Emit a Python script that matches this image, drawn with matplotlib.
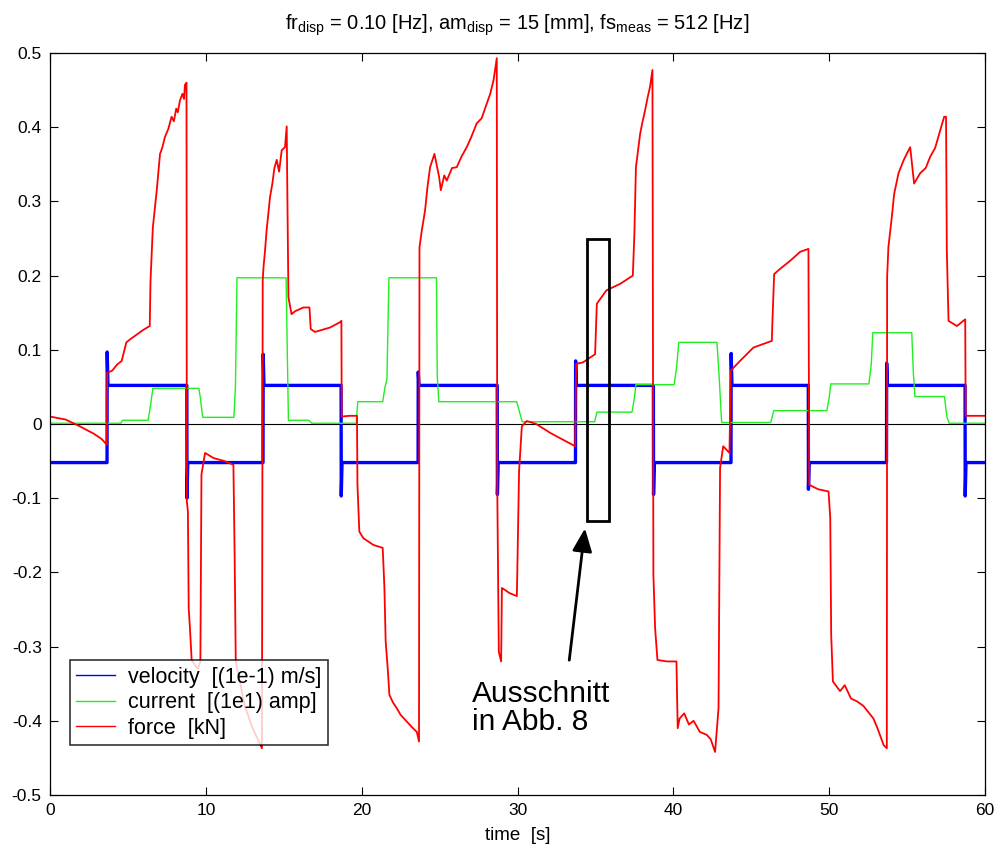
import numpy as np
import matplotlib
matplotlib.use("Agg")
import matplotlib.pyplot as plt
from matplotlib.patches import Rectangle

plt.rcParams['font.family'] = ['Liberation Sans', 'DejaVu Sans']
plt.rcParams['mathtext.fontset'] = 'custom'
plt.rcParams['mathtext.rm'] = 'Liberation Sans'
plt.rcParams['axes.unicode_minus'] = False

# velocity: square wave, switch times, overshoot peaks, levels in between
vel_switch = [3.66, 8.78, 13.67, 18.68, 23.62, 28.70, 33.72, 38.72, 43.70, 48.66, 53.68, 58.72]
vel_peak = [0.097, -0.100, 0.094, -0.097, 0.070, -0.095, 0.085, -0.095, 0.095, -0.088, 0.082, -0.097]
vel_level = [-0.052, 0.052, -0.052, 0.052, -0.052, 0.052, -0.052, 0.052, -0.052, 0.052, -0.052, 0.052, -0.052]

# current (scaled 1e1 amp)
cur_t = [0, 4.55, 4.65, 6.3, 6.45, 6.6, 9.55, 9.65, 9.8, 11.8, 11.9, 12.0, 15.15, 15.3, 16.6, 16.8,
         19.65, 19.75, 21.35, 21.5, 21.62, 21.75, 24.8, 24.85, 24.95, 29.95, 30.3, 34.95, 35.1,
         37.35, 37.5, 37.6, 40.05, 40.2, 40.35, 42.8, 42.95, 43.1, 46.25, 46.45, 49.85, 50.0, 50.1,
         52.55, 52.7, 52.8, 55.3, 55.4, 55.5, 57.4, 57.55, 57.7, 60]
cur_v = [0.001, 0.001, 0.005, 0.005, 0.025, 0.048, 0.048, 0.035, 0.009, 0.009, 0.050, 0.197, 0.197, 0.005,
         0.005, 0.001, 0.001, 0.030, 0.030, 0.050, 0.060, 0.197, 0.197, 0.065, 0.030, 0.030, 0.003,
         0.003, 0.016, 0.016, 0.035, 0.053, 0.053, 0.075, 0.110, 0.110, 0.060, 0.002, 0.002, 0.018,
         0.018, 0.035, 0.054, 0.054, 0.080, 0.123, 0.123, 0.070, 0.037, 0.037, 0.010, 0.001, 0.001]

# force [kN]
force_t = [0.0, 1.0, 1.9, 2.8, 3.3, 3.65, 3.67, 4.0, 4.3, 4.6, 4.9, 5.2, 5.6, 6.0, 6.4,
           6.45, 6.6, 6.85, 7.06, 7.2, 7.38, 7.6, 7.8, 7.95, 8.1, 8.2, 8.34, 8.5, 8.6, 8.66, 8.76,
           8.78, 8.85, 8.9, 8.98, 9.09, 9.3, 9.5, 9.65, 9.72, 9.95, 10.5, 11.2, 11.77,
           11.85, 11.92, 12.5, 13.0, 13.6,
           13.65, 13.7, 13.8, 13.9, 14.12, 14.27, 14.4, 14.55, 14.7, 14.87, 15.08, 15.19,
           15.22, 15.3, 15.5, 15.73, 16.26, 16.65, 16.73, 17.0, 17.97, 18.6, 18.7,
           18.72, 19.2, 19.7,
           19.73, 19.85, 20.11, 20.75, 21.35, 21.46, 21.54, 21.67, 21.78, 22.0, 22.25, 22.5, 22.89,
           23.2, 23.54, 23.68,
           23.71, 23.86, 24.07, 24.22, 24.39, 24.67, 24.97, 25.08, 25.3, 25.46, 25.8, 26.1, 26.4,
           26.74, 27.0, 27.38, 27.7, 28.03, 28.25, 28.46, 28.67,
           28.70, 28.8, 28.95, 29.0, 29.5, 29.96, 30.1, 30.28, 30.6, 31.2, 32.1, 32.9, 33.7,
           33.76, 34.2, 34.98, 35.09, 35.7, 36.6, 37.4, 37.5, 37.6, 37.87, 38.0, 38.19, 38.35,
           38.5, 38.66,
           38.72, 38.83, 38.98, 39.6, 40.2, 40.28, 40.4, 40.7, 41.0, 41.3, 41.7, 42.15, 42.4, 42.68,
           42.9, 43.0, 43.2, 43.6,
           43.69, 44.28, 45.14, 46.32, 46.36, 46.47, 46.85, 47.5, 48.14, 48.67,
           48.72, 49.3, 49.96, 50.07, 50.13, 50.24, 50.7, 51.0, 51.4, 51.8, 52.2, 52.84, 53.1,
           53.5, 53.7,
           53.72, 53.8, 54.02, 54.17, 54.45, 54.77, 55.0, 55.2, 55.45, 55.84, 56.2, 56.48, 56.8,
           57.13, 57.38, 57.5, 57.55, 57.66, 58.2, 58.73,
           58.76, 60.0]
force_v = [0.010, 0.006, -0.003, -0.013, -0.020, -0.028, 0.069, 0.072, 0.080, 0.085, 0.110, 0.115,
           0.121, 0.127, 0.132,
           0.193, 0.265, 0.315, 0.364, 0.372, 0.387, 0.398, 0.414, 0.408, 0.425, 0.420, 0.436, 0.445,
           0.438, 0.457, 0.460,
           -0.104, -0.118, -0.248, -0.275, -0.318, -0.325, -0.330, -0.320, -0.068, -0.039, -0.046,
           -0.050, -0.055,
           -0.180, -0.320, -0.380, -0.410, -0.437,
           0.193, 0.211, 0.234, 0.261, 0.306, 0.324, 0.345, 0.356, 0.340, 0.369, 0.373, 0.401,
           0.333, 0.171, 0.148, 0.152, 0.157, 0.157, 0.128, 0.124, 0.130, 0.137, 0.139,
           0.010, 0.011, 0.011,
           -0.082, -0.145, -0.154, -0.163, -0.167, -0.221, -0.293, -0.329, -0.365, -0.375, -0.383,
           -0.392, -0.401, -0.408, -0.415, -0.428,
           0.238, 0.261, 0.288, 0.319, 0.346, 0.364, 0.333, 0.315, 0.335, 0.328, 0.345, 0.346,
           0.360, 0.373, 0.385, 0.405, 0.412, 0.432, 0.445, 0.463, 0.493,
           -0.082, -0.307, -0.320, -0.221, -0.228, -0.232, -0.064, -0.003, 0.004, 0.000, -0.012,
           -0.021, -0.030,
           0.081, 0.083, 0.094, 0.162, 0.180, 0.189, 0.200, 0.256, 0.346, 0.391, 0.405, 0.423, 0.440,
           0.454, 0.477,
           -0.203, -0.275, -0.318, -0.320, -0.320, -0.410, -0.397, -0.390, -0.405, -0.400, -0.415,
           -0.419, -0.425, -0.442, -0.383, -0.059, -0.030, -0.039,
           0.072, 0.085, 0.103, 0.112, 0.139, 0.202, 0.209, 0.220, 0.232, 0.236,
           -0.082, -0.088, -0.091, -0.127, -0.284, -0.347, -0.360, -0.352, -0.370, -0.374, -0.380,
           -0.397, -0.410, -0.433, -0.437,
           0.198, 0.238, 0.279, 0.310, 0.338, 0.355, 0.365, 0.373, 0.324, 0.338, 0.345, 0.360, 0.372,
           0.396, 0.414, 0.414, 0.234, 0.139, 0.132, 0.141,
           0.011, 0.011]

xticks = [0, 10, 20, 30, 40, 50, 60]
yticks = [-0.5, -0.4, -0.3, -0.2, -0.1, 0, 0.1, 0.2, 0.3, 0.4, 0.5]
ytick_labels = ['-0.5', '-0.4', '-0.3', '-0.2', '-0.1', '0', '0.1', '0.2', '0.3', '0.4', '0.5']

# build the velocity step line from the switch list
vel_t = [0.0]
vel_v = [vel_level[0]]
for i, ts in enumerate(vel_switch):
    vel_t += [ts, ts + 0.01, ts + 0.06]
    vel_v += [vel_level[i], vel_peak[i], vel_level[i + 1]]
vel_t.append(60.0)
vel_v.append(vel_level[-1])

fig = plt.figure(figsize=(10, 8.5), dpi=100)
ax = fig.add_axes([0.05, 0.0647, 0.935, 0.873])

ax.plot(vel_t, vel_v, color='#0000ff', lw=2.4, label='velocity  [(1e-1) m/s]')
ax.plot(cur_t, cur_v, color='#22ee22', lw=1.0, label='current  [(1e1) amp]')
ax.plot(force_t, force_v, color='#ff0000', lw=1.3, label='force  [kN]')
ax.axhline(0, color='black', lw=0.8, zorder=1)

ax.set_xlim(0, 60)
ax.set_ylim(-0.5, 0.5)
ax.set_xticks(xticks)
ax.set_yticks(yticks)
ax.set_yticklabels(ytick_labels)
ax.tick_params(direction='in', top=True, right=True, labelsize=12.5, length=6, width=0.8, pad=6)
for s in ax.spines.values():
    s.set_linewidth(0.9)

ax.set_xlabel('time  [s]', fontsize=13.5, labelpad=6)
ax.set_title(r'fr$_{\rm disp}$ = 0.10 [Hz], am$_{\rm disp}$ = 15 [mm], fs$_{\rm meas}$ = 512 [Hz]',
             fontsize=14.5, pad=17)

ax.add_patch(Rectangle((34.47, -0.131), 1.41, 0.380, fill=False, ec='black', lw=2.0, zorder=5))
ax.annotate('', xy=(34.35, -0.137), xytext=(33.3, -0.322),
            arrowprops=dict(arrowstyle='-|>,head_length=1.4,head_width=0.6', color='black', lw=2.0))
ax.text(27.1, -0.345, 'Ausschnitt\nin Abb. 8', fontsize=21.5, va='top', ha='left', linespacing=1.0)

leg = ax.legend(loc='lower left', bbox_to_anchor=(0.0214, 0.0674), borderaxespad=0, fontsize=15.5,
                frameon=True, fancybox=False, edgecolor='black', handlelength=1.8, handletextpad=0.6,
                borderpad=0.3, labelspacing=0.2)
leg.get_frame().set_linewidth(1.2)
for h in leg.get_lines():
    h.set_linewidth(1.0)

fig.savefig('out.png', dpi=100)
